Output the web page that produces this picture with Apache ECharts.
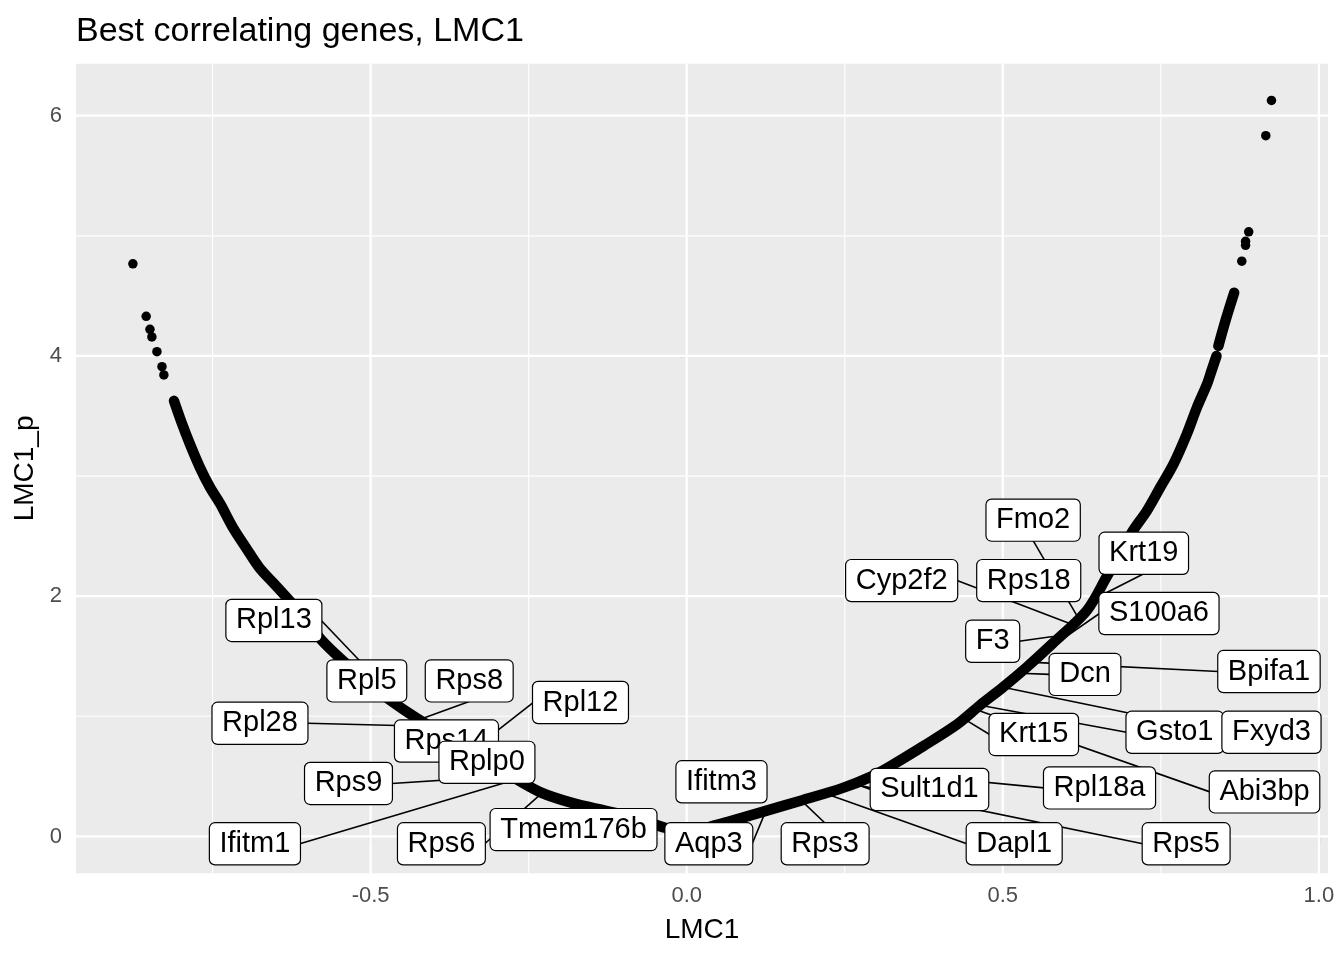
<!DOCTYPE html>
<html lang="en">
<head>
<meta charset="UTF-8">
<title>Best correlating genes, LMC1</title>
<script src="https://cdn.jsdelivr.net/npm/echarts@6/dist/echarts.min.js"></script>
<style>html, body { margin: 0; background: #fff; }</style>
</head>
<body>
<div id="main" style="width:1344px;height:960px;"></div>
<script>
// dense band of genes, read along its centre (left top -> minimum -> right)
let curveX = [-0.811, -0.799, -0.786, -0.770, -0.754, -0.738, -0.718, -0.696, -0.675, -0.653,
    -0.612, -0.577, -0.541, -0.504, -0.469, -0.427, -0.374, -0.327, -0.280, -0.232,
    -0.180, -0.126, -0.074, -0.038, 0.000,
    0.029, 0.064, 0.124, 0.183, 0.246, 0.290, 0.322, 0.374, 0.428, 0.464,
    0.500, 0.538, 0.579, 0.633, 0.664, 0.685, 0.706, 0.728, 0.749, 0.770,
    0.791, 0.807, 0.823, 0.830, 0.838];
let curveY = [3.626, 3.446, 3.269, 3.072, 2.906, 2.770, 2.573, 2.394, 2.230, 2.106,
    1.865, 1.632, 1.449, 1.275, 1.134, 0.984, 0.817, 0.668, 0.510, 0.369,
    0.277, 0.211, 0.144, 0.078, 0.037,
    0.070, 0.120, 0.211, 0.302, 0.402, 0.494, 0.585, 0.751, 0.934, 1.092,
    1.241, 1.410, 1.607, 1.881, 2.158, 2.352, 2.546, 2.712, 2.906, 3.100,
    3.349, 3.570, 3.765, 3.875, 4.000];
// short piece above the small gap on the right
let upperX = [0.841, 0.853, 0.866];
let upperY = [4.083, 4.307, 4.526];

// single genes at both ends
let dotX = [-0.876, -0.855, -0.849, -0.846, -0.838, -0.830, -0.827,
    0.925, 0.916, 0.889, 0.884, 0.884, 0.878];
let dotY = [4.767, 4.330, 4.222, 4.158, 4.036, 3.911, 3.842,
    6.127, 5.834, 5.033, 4.955, 4.921, 4.789];

// labelled genes: where the gene sits and where its repelled label ended up
let genes = ['Rpl13', 'Rpl5', 'Rps8', 'Rpl28', 'Rps14', 'Rpl12', 'Rplp0', 'Rps9', 'Ifitm1', 'Rps6',
    'Tmem176b', 'Aqp3', 'Ifitm3', 'Rps3', 'Dapl1', 'Rps5', 'Sult1d1', 'Rpl18a', 'Krt15', 'Gsto1',
    'Abi3bp', 'Fxyd3', 'Dcn', 'Bpifa1', 'F3', 'S100a6', 'Rps18', 'Cyp2f2', 'Krt19', 'Fmo2'];
let geneX = [-0.438, -0.506, -0.430, -0.411, -0.381, -0.343, -0.316, -0.287, -0.273, -0.229,
    -0.129, 0.125, 0.116, 0.179, 0.217, 0.255, 0.262, 0.309, 0.440, 0.464,
    0.456, 0.508, 0.526, 0.549, 0.579, 0.587, 0.614, 0.610, 0.649, 0.617];
let geneY = [1.025, 1.216, 0.959, 0.917, 0.817, 0.701, 0.593, 0.502, 0.469, 0.361,
    0.211, 0.211, 0.203, 0.311, 0.361, 0.444, 0.444, 0.535, 0.975, 1.092,
    1.059, 1.233, 1.358, 1.449, 1.665, 1.615, 1.865, 1.765, 1.989, 1.840];
let labelX = [-0.653, -0.506, -0.344, -0.675, -0.380, -0.168, -0.316, -0.535, -0.683, -0.388,
    -0.179, 0.035, 0.055, 0.219, 0.518, 0.790, 0.384, 0.653, 0.549, 0.772,
    0.914, 0.925, 0.630, 0.921, 0.484, 0.747, 0.541, 0.340, 0.723, 0.548];
let labelY = [1.798, 1.295, 1.295, 0.942, 0.794, 1.115, 0.617, 0.441, -0.061, -0.061,
    0.057, -0.061, 0.455, -0.061, -0.061, -0.061, 0.391, 0.404, 0.849, 0.867,
    0.371, 0.867, 1.349, 1.373, 1.625, 1.856, 2.130, 2.130, 2.357, 2.633];

let xTicks = [-0.5, 0, 0.5, 1];
let xMinor = [-0.75, -0.25, 0.25, 0.75];
let yTicks = [0, 2, 4, 6];
let yMinor = [1, 3, 5];

let myChart = echarts.init(document.getElementById('main'));
let font = '"Liberation Sans", Arial, sans-serif';
let labelSize = 29;
let padX = 9.5, padY = 6;

// box sizes for the segments
let ctx = document.createElement('canvas').getContext('2d');
ctx.font = labelSize + 'px ' + font;
function boxSize(t) {
    return [ctx.measureText(t).width + 2 * padX, labelSize + 2 * padY];
}

let gridData = [];
xMinor.forEach(v => gridData.push([v, 0, 0]));
yMinor.forEach(v => gridData.push([v, 1, 0]));
xTicks.forEach(v => gridData.push([v, 0, 1]));
yTicks.forEach(v => gridData.push([v, 1, 1]));

let curveData = curveX.map((x, i) => [x, curveY[i]]);
let upperData = upperX.map((x, i) => [x, upperY[i]]);
let dotData = dotX.map((x, i) => [x, dotY[i]]);
let labelData = genes.map((g, i) => [geneX[i], geneY[i], labelX[i], labelY[i]]);

let bandStyle = { color: '#000', width: 10.5, cap: 'round', join: 'round' };

option = {
    animation: false,
    backgroundColor: '#fff',
    title: {
        text: 'Best correlating genes, LMC1',
        left: 76, top: 15, padding: 0,
        textStyle: { fontFamily: font, fontSize: 34, fontWeight: 'normal', color: '#000' }
    },
    grid: {
        left: 76, top: 63.7, width: 1252, height: 809.5,
        show: true, backgroundColor: '#EBEBEB', borderWidth: 0
    },
    xAxis: {
        type: 'value', min: -0.966, max: 1.0144,
        name: 'LMC1', nameLocation: 'middle', nameGap: 43,
        nameTextStyle: { fontFamily: font, fontSize: 28, color: '#000' },
        axisLine: { show: false },
        splitLine: { show: false },
        axisTick: { show: true, customValues: xTicks, length: 7, lineStyle: { color: '#333', width: 1.1 } },
        axisLabel: {
            customValues: xTicks, margin: 12, color: '#4D4D4D', fontSize: 22, fontFamily: font,
            formatter: v => v.toFixed(1)
        }
    },
    yAxis: {
        type: 'value', min: -0.306, max: 6.433,
        name: 'LMC1_p', nameLocation: 'middle', nameGap: 30,
        nameTextStyle: { fontFamily: font, fontSize: 28, color: '#000' },
        axisLine: { show: false },
        splitLine: { show: false },
        axisTick: { show: true, customValues: yTicks, length: 7, lineStyle: { color: '#333', width: 1.1 } },
        axisLabel: {
            customValues: yTicks, margin: 14, color: '#4D4D4D', fontSize: 22, fontFamily: font,
            formatter: v => String(v)
        }
    },
    series: [{
        // panel grid lines
        type: 'custom', z: 1, silent: true,
        data: gridData,
        renderItem: function(params, api) {
            let cs = params.coordSys;
            let w = api.value(2) ? 2.2 : 1.1;
            if (api.value(1) === 0) {
                let px = api.coord([api.value(0), 0])[0];
                return { type: 'line', shape: { x1: px, y1: cs.y, x2: px, y2: cs.y + cs.height }, style: { stroke: '#fff', lineWidth: w } };
            }
            let py = api.coord([0, api.value(0)])[1];
            return { type: 'line', shape: { x1: cs.x, y1: py, x2: cs.x + cs.width, y2: py }, style: { stroke: '#fff', lineWidth: w } };
        }
    }, {
        type: 'line', z: 2, silent: true,
        data: curveData, showSymbol: false, smooth: 0.3,
        lineStyle: bandStyle
    }, {
        type: 'line', z: 2, silent: true,
        data: upperData, showSymbol: false, smooth: 0.3,
        lineStyle: bandStyle
    }, {
        type: 'scatter', z: 3, silent: true,
        data: dotData, symbolSize: 9.5,
        itemStyle: { color: '#000', opacity: 1 }
    }, {
        // segments from gene to its label (ggrepel style)
        type: 'custom', z: 4, silent: true,
        data: labelData,
        renderItem: function(params, api) {
            let p = api.coord([api.value(0), api.value(1)]);
            let c = api.coord([api.value(2), api.value(3)]);
            let s = boxSize(genes[params.dataIndex]);
            let dx = p[0] - c[0], dy = p[1] - c[1];
            let gx = Math.max(0, Math.abs(dx) - s[0] / 2);
            let gy = Math.max(0, Math.abs(dy) - s[1] / 2);
            if (Math.hypot(gx, gy) < 16) return null;
            let a = gx >= gy ? [c[0] + Math.sign(dx) * s[0] / 2, c[1]] : [c[0], c[1] + Math.sign(dy) * s[1] / 2];
            return {
                type: 'line',
                shape: { x1: a[0], y1: a[1], x2: p[0], y2: p[1] },
                style: { stroke: '#000', lineWidth: 1.6 }
            };
        }
    }, {
        // label boxes
        type: 'custom', z: 5, silent: true,
        data: labelData,
        renderItem: function(params, api) {
            let c = api.coord([api.value(2), api.value(3)]);
            return {
                type: 'text', x: c[0], y: c[1],
                style: {
                    text: genes[params.dataIndex],
                    font: labelSize + 'px ' + font,
                    fill: '#000', align: 'center', verticalAlign: 'middle',
                    lineHeight: labelSize,
                    backgroundColor: '#fff', borderColor: '#000', borderWidth: 1.2,
                    borderRadius: 5, padding: [padY, padX]
                }
            };
        }
    }]
};

myChart.setOption(option);
</script>
</body>
</html>
